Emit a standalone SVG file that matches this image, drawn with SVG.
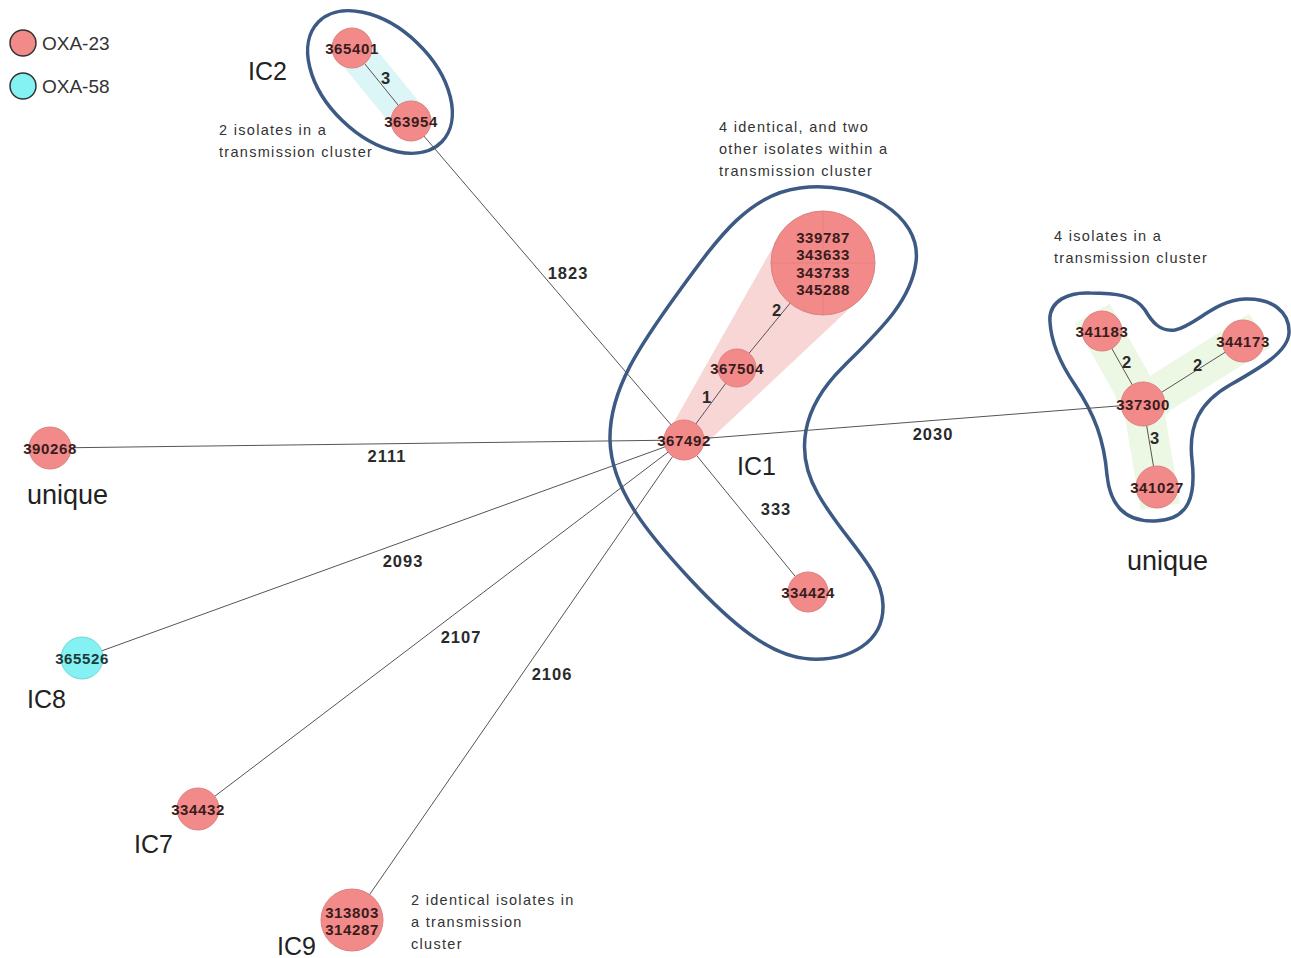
<svg xmlns="http://www.w3.org/2000/svg" width="1291" height="958" viewBox="0 0 1291 958">
<style>
.nd{fill:#f28a8a;stroke:#dc8080;stroke-width:1}
.cy{fill:#84f2f2;stroke:#6fd6d6;stroke-width:1}
.nl{font-family:"Liberation Sans",Arial,sans-serif;font-weight:bold;font-size:15px;letter-spacing:0.6px;fill:#3a1c1c;text-anchor:middle;dominant-baseline:central}
.el{font-family:"Liberation Sans",Arial,sans-serif;font-weight:bold;font-size:16.5px;letter-spacing:1px;fill:#2a2a2a;text-anchor:middle;dominant-baseline:central}
.ed{stroke:#555;stroke-width:1;fill:none}
.big{font-family:"Liberation Sans",Arial,sans-serif;font-size:25px;fill:#222}
.ann{font-family:"Liberation Sans",Arial,sans-serif;font-size:14.5px;letter-spacing:1.3px;fill:#333}
.hull{fill:none;stroke:#3d5a85;stroke-width:3.5}
.leg{font-family:"Liberation Sans",Arial,sans-serif;font-size:19px;fill:#333}
</style>
<rect width="1291" height="958" fill="#ffffff"/>

<!-- cluster shading -->
<g id="shading">
  <line x1="346" y1="41" x2="418" y2="129" stroke="#dcf5f6" stroke-width="36" stroke-linecap="butt"/>
  <path d="M670,429 L782,231 A52,52 0 0 1 864,295 L698,451 A18,18 0 0 1 670,429 Z" fill="#f9d6d6"/>
  <g stroke="#ecf8e4" stroke-width="40" stroke-linecap="square">
    <line x1="1143" y1="404" x2="1102" y2="331"/>
    <line x1="1143" y1="404" x2="1243" y2="341"/>
    <line x1="1143" y1="404" x2="1157" y2="487"/>
  </g>
</g>

<!-- hulls -->
<g id="hulls">
  <ellipse cx="380" cy="82" rx="86" ry="54" transform="rotate(44 380 82)" class="hull"/>
  <path class="hull" d="M800,188 C862,180 922,215 916,262 C911,302 878,332 842,368 C802,408 794,452 818,494 C844,540 882,568 883,605 C884,642 850,661 810,659 C770,657 730,622 690,579 C650,536 611,490 610,440 C609,390 640,345 680,290 C720,235 750,194 800,188 Z"/>
  <path class="hull" d="M1050,322 C1048,300 1070,292 1090,293 C1115,293 1135,295 1145,310 C1152,322 1160,332 1175,330 C1195,326 1215,300 1245,299 C1272,298 1290,312 1289,333 C1288,352 1260,368 1230,385 C1200,402 1188,425 1192,460 C1196,495 1190,520 1155,521 C1125,522 1110,505 1107,475 C1104,440 1095,415 1075,385 C1058,360 1051,340 1050,322 Z"/>
</g>

<!-- connectors -->
<g id="connectors">
  <line class="ed" x1="684" y1="440" x2="411" y2="121"/>
  <line class="ed" x1="684" y1="440" x2="50" y2="448"/>
  <line class="ed" x1="684" y1="440" x2="82" y2="658"/>
  <line class="ed" x1="684" y1="440" x2="198" y2="809"/>
  <line class="ed" x1="684" y1="440" x2="352" y2="920"/>
  <line class="ed" x1="684" y1="440" x2="808" y2="592"/>
  <line class="ed" x1="684" y1="440" x2="1143" y2="404"/>
  <line class="ed" x1="684" y1="440" x2="737" y2="368"/>
  <line class="ed" x1="737" y1="368" x2="823" y2="263"/>
  <line class="ed" x1="352" y1="48" x2="411" y2="121"/>
  <line class="ed" x1="1143" y1="404" x2="1102" y2="331"/>
  <line class="ed" x1="1143" y1="404" x2="1243" y2="341"/>
  <line class="ed" x1="1143" y1="404" x2="1157" y2="487"/>
  <text class="el" x="568" y="273">1823</text>
  <text class="el" x="387" y="456">2111</text>
  <text class="el" x="403" y="561">2093</text>
  <text class="el" x="461" y="637">2107</text>
  <text class="el" x="552" y="674">2106</text>
  <text class="el" x="776" y="509">333</text>
  <text class="el" x="933" y="434">2030</text>
  <text class="el" x="707" y="397">1</text>
  <text class="el" x="777" y="310">2</text>
  <text class="el" x="386" y="78">3</text>
  <text class="el" x="1127" y="362">2</text>
  <text class="el" x="1198" y="365">2</text>
  <text class="el" x="1155" y="438">3</text>
</g>

<!-- nodes -->
<g id="n365401"><circle class="nd" cx="352" cy="48" r="20"/><text class="nl" x="352" y="48">365401</text></g>
<g id="n363954"><circle class="nd" cx="411" cy="121" r="20"/><text class="nl" x="411" y="121">363954</text></g>
<g id="n339787">
  <circle class="nd" cx="823" cy="263" r="52"/>
  <line x1="823" y1="211" x2="823" y2="315" stroke="#e07a7a" stroke-width="0.6"/>
  <line x1="771" y1="263" x2="875" y2="263" stroke="#e07a7a" stroke-width="0.6"/>
  <text class="nl" x="823" y="237">339787</text>
  <text class="nl" x="823" y="254">343633</text>
  <text class="nl" x="823" y="272">343733</text>
  <text class="nl" x="823" y="289">345288</text>
</g>
<g id="n367504"><circle class="nd" cx="737" cy="368" r="19"/><text class="nl" x="737" y="368">367504</text></g>
<g id="n367492"><circle class="nd" cx="684" cy="440" r="20"/><text class="nl" x="684" y="440">367492</text></g>
<g id="n334424"><circle class="nd" cx="808" cy="592" r="20"/><text class="nl" x="808" y="592">334424</text></g>
<g id="n390268"><circle class="nd" cx="50" cy="448" r="21"/><text class="nl" x="50" y="448">390268</text></g>
<g id="n365526"><circle class="cy" cx="82" cy="658" r="21"/><text class="nl" x="82" y="658" style="fill:#1e3a3a">365526</text></g>
<g id="n334432"><circle class="nd" cx="198" cy="809" r="21"/><text class="nl" x="198" y="809">334432</text></g>
<g id="n313803"><circle class="nd" cx="352" cy="920" r="31"/><text class="nl" x="352" y="912">313803</text><text class="nl" x="352" y="929">314287</text></g>
<g id="n341183"><circle class="nd" cx="1102" cy="331" r="20"/><text class="nl" x="1102" y="331">341183</text></g>
<g id="n344173"><circle class="nd" cx="1243" cy="341" r="21"/><text class="nl" x="1243" y="341">344173</text></g>
<g id="n337300"><circle class="nd" cx="1143" cy="404" r="22"/><text class="nl" x="1143" y="404">337300</text></g>
<g id="n341027"><circle class="nd" cx="1157" cy="487" r="21"/><text class="nl" x="1157" y="487">341027</text></g>

<!-- labels -->
<g id="labels">
  <text class="big" x="248" y="80">IC2</text>
  <text class="big" x="737" y="475">IC1</text>
  <text class="big" x="27" y="504" style="font-size:27px">unique</text>
  <text class="big" x="1127" y="570" style="font-size:27px">unique</text>
  <text class="big" x="27" y="708">IC8</text>
  <text class="big" x="134" y="853">IC7</text>
  <text class="big" x="277" y="955">IC9</text>
  <text class="ann" x="219" y="135">2 isolates in a</text>
  <text class="ann" x="219" y="157">transmission cluster</text>
  <text class="ann" x="719" y="132">4 identical, and two</text>
  <text class="ann" x="719" y="154">other  isolates within a</text>
  <text class="ann" x="719" y="176">transmission cluster</text>
  <text class="ann" x="1054" y="241">4 isolates in a</text>
  <text class="ann" x="1054" y="263">transmission cluster</text>
  <text class="ann" x="411" y="905">2 identical isolates in</text>
  <text class="ann" x="411" y="927">a transmission</text>
  <text class="ann" x="411" y="949">cluster</text>
</g>

<!-- legend -->
<g id="legend">
  <circle cx="23" cy="43" r="13" fill="#f28a8a" stroke="#333" stroke-width="1.5"/>
  <text class="leg" x="42" y="50">OXA-23</text>
  <circle cx="23" cy="86" r="13" fill="#84f2f2" stroke="#333" stroke-width="1.5"/>
  <text class="leg" x="42" y="93">OXA-58</text>
</g>
</svg>
